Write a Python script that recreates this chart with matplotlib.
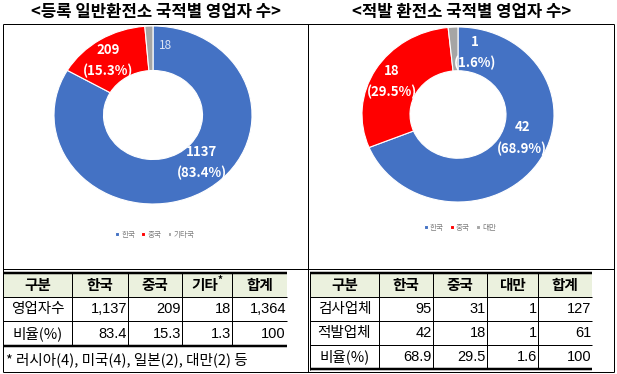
import matplotlib
matplotlib.use("Agg")
import matplotlib.pyplot as plt
from matplotlib.patches import Rectangle

plt.rcParams['font.family'] = ['Noto Sans CJK KR', 'DejaVu Sans']

# ---------------- data ----------------
left_title = '<등록 일반환전소 국적별 영업자 수>'
right_title = '<적발 환전소 국적별 영업자 수>'

left_cats = ['한국', '중국', '기타국']
left_vals = [1137, 209, 18]
left_pct = [83.4, 15.3, 1.3]

right_cats = ['한국', '중국', '대만']
right_vals = [42, 18, 1]
right_pct = [68.9, 29.5, 1.6]

colors = ['#4472C4', '#FF0000', '#A5A5A5']

left_header = ['구분', '한국', '중국', '기타*', '합계']
left_rows = [
    ['영업자수', '1,137', '209', '18', '1,364'],
    ['비율(%)', '83.4', '15.3', '1.3', '100'],
]
left_note = '* 러시아(4), 미국(4), 일본(2), 대만(2) 등'

right_header = ['구분', '한국', '중국', '대만', '합계']
right_rows = [
    ['검사업체', '95', '31', '1', '127'],
    ['적발업체', '42', '18', '1', '61'],
    ['비율(%)', '68.9', '29.5', '1.6', '100'],
]

# ---------------- figure ----------------
W, H = 617, 374
fig = plt.figure(figsize=(W / 100, H / 100), dpi=100)
fig.patch.set_facecolor('white')
ax0 = fig.add_axes([0, 0, 1, 1])
ax0.set_xlim(0, W)
ax0.set_ylim(H, 0)
ax0.axis('off')

PX = 0.72  # 1 px in points


def hline(y, x0, x1, lw=1.0, color='black'):
    ax0.plot([x0, x1], [y, y], color=color, lw=lw * PX, solid_capstyle='butt')


def vline(x, y0, y1, lw=1.0, color='black'):
    ax0.plot([x, x], [y0, y1], color=color, lw=lw * PX, solid_capstyle='butt')


# titles
ax0.text(156, 12, left_title, ha='center', va='center', fontsize=12, fontweight='bold')
ax0.text(462, 12, right_title, ha='center', va='center', fontsize=12, fontweight='bold')

# outer frame
hline(24, 3, 614)
hline(269, 3, 614)
hline(372, 3, 614)
vline(3, 24, 372)
vline(308, 24, 372)
vline(614, 24, 372)


# ---------------- donuts ----------------
def donut(cx, cy, rx, ry, vals, pct, cats, label_pos, label_styles, legend_xy):
    ax = fig.add_axes([(cx - rx) / W, 1 - (cy + ry) / H, 2 * rx / W, 2 * ry / H])
    wedges, _ = ax.pie(vals, colors=colors, startangle=90, counterclock=False,
                       radius=1.0, wedgeprops=dict(width=0.5, edgecolor='white', linewidth=0.8))
    ax.set_xlim(-1, 1)
    ax.set_ylim(-1, 1)
    ax.set_aspect('auto')
    ax.axis('off')
    for v, p, (lx, ly), style in zip(vals, pct, label_pos, label_styles):
        if style == 'value':
            ax.text(lx, ly, f'{v}', ha='left', va='center', fontsize=8.5,
                    color='#DCE3F4')
        else:
            ax.text(lx, ly, f'{v}\n({p}%)', ha='center', va='center', fontsize=9.5,
                    color='white', fontweight='bold', linespacing=1.6)
    fig.legend(wedges, cats, loc='center',
               bbox_to_anchor=(legend_xy[0] / W, 1 - legend_xy[1] / H),
               ncol=3, frameon=False, fontsize=5.5, labelcolor='#7F7F7F',
               handlelength=0.5, handleheight=0.5, handletextpad=0.3,
               columnspacing=0.8)
    return ax


donut(153, 115, 99, 89, left_vals, left_pct, left_cats,
      [(0.49, -0.53), (-0.45, 0.61), (0.06, 0.78)],
      ['full', 'full', 'value'], (155, 235))
donut(458, 114.5, 96, 87.5, right_vals, right_pct, right_cats,
      [(0.67, -0.27), (-0.69, 0.38), (0.18, 0.71)],
      ['full', 'full', 'full'], (460, 228))


# ---------------- tables ----------------
BODY_FS = 10.5
NUM_FS = 10.5


def table(cols, rows_y, header, rows, thick_bottom):
    x0, x1 = cols[0], cols[-1]
    top = 273
    hy = rows_y[0]
    ax0.add_patch(Rectangle((x0, top), x1 - x0, hy - top, facecolor='#EBF1DE',
                            edgecolor='none'))
    hline(top, x0, x1, lw=2.5)
    # header text
    for i, h in enumerate(header):
        xc = (cols[i] + cols[i + 1]) / 2
        if h.endswith('*'):
            ax0.text(xc - 2, (top + hy) / 2, h[:-1], ha='center', va='center',
                     fontsize=10.5, fontweight='bold')
            ax0.text(xc + 13, (top + hy) / 2 - 5, '*', ha='center', va='center',
                     fontsize=7, fontweight='bold')
        else:
            ax0.text(xc, (top + hy) / 2, h, ha='center', va='center',
                     fontsize=10.5, fontweight='bold')
    hline(hy, x0, x1, lw=1.0)
    prev = hy
    for r, row in enumerate(rows):
        y1 = rows_y[r + 1]
        yc = (prev + y1) / 2
        for i, cell in enumerate(row):
            if i == 0:
                ax0.text((cols[0] + cols[1]) / 2, yc, cell, ha='center', va='center',
                         fontsize=BODY_FS)
            else:
                ax0.text(cols[i + 1] - 1, yc, cell, ha='right', va='center',
                         fontsize=NUM_FS, family=['Liberation Sans', 'DejaVu Sans'])
        is_last = r == len(rows) - 1
        hline(y1, x0, x1, lw=2.5 if (is_last and thick_bottom) else 1.0)
        prev = y1
    for c in cols[1:-1]:
        vline(c, top, rows_y[-1])


left_cols = [3, 72, 128, 182, 232, 287]
table(left_cols, [297, 321, 346], left_header, left_rows, True)
ax0.text(6, 360, left_note, ha='left', va='center', fontsize=10.5)

right_cols = [310, 379, 433, 487, 538, 592]
table(right_cols, [297, 321, 345, 369], right_header, right_rows, True)
vline(310, 273, 370)

fig.savefig('out.png', dpi=100, facecolor='white')
